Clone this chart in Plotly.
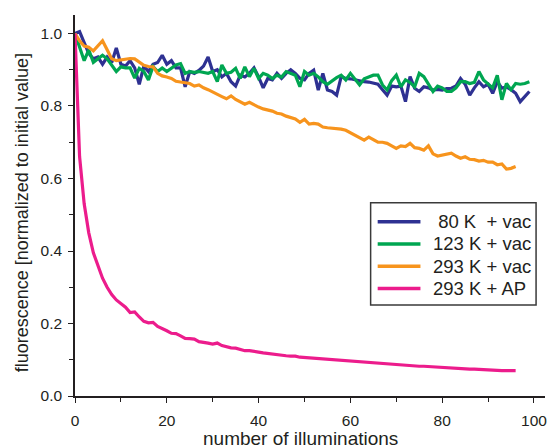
import plotly.graph_objects as go

# ---- data ----
x_long = list(range(0, 100))   # 80 K and 123 K series
x_short = list(range(0, 97))   # 293 K series

blue_80K_vac = [
    1.00, 1.005, 0.975, 0.945, 0.93, 0.935, 0.915, 0.935, 0.92, 0.96,
    0.915, 0.91, 0.925, 0.905, 0.86, 0.91, 0.895, 0.915, 0.92, 0.94,
    0.915, 0.925, 0.905, 0.905, 0.853, 0.895, 0.89, 0.898, 0.91, 0.935,
    0.895, 0.90, 0.88, 0.89, 0.867, 0.855, 0.885, 0.88, 0.89, 0.905,
    0.88, 0.85, 0.876, 0.872, 0.89, 0.876, 0.89, 0.90, 0.89, 0.876,
    0.872, 0.89, 0.899, 0.844, 0.89, 0.844, 0.84, 0.83, 0.881, 0.876,
    0.875, 0.872, 0.87, 0.867, 0.866, 0.863, 0.86, 0.845, 0.83, 0.855,
    0.853, 0.855, 0.812, 0.881, 0.849, 0.84, 0.853, 0.85, 0.844, 0.846,
    0.844, 0.848, 0.849, 0.855, 0.876, 0.86, 0.83, 0.85, 0.867, 0.853,
    0.86, 0.835, 0.867, 0.849, 0.853, 0.845, 0.835, 0.812, 0.825, 0.84,
]

green_123K_vac = [
    1.00, 0.96, 0.925, 0.955, 0.92, 0.93, 0.94, 0.93, 0.913, 0.895,
    0.908, 0.905, 0.905, 0.877, 0.904, 0.895, 0.872, 0.909, 0.895, 0.905,
    0.895, 0.905, 0.913, 0.917, 0.89, 0.895, 0.893, 0.895, 0.893, 0.89,
    0.895, 0.867, 0.913, 0.89, 0.893, 0.904, 0.876, 0.908, 0.881, 0.904,
    0.876, 0.89, 0.885, 0.876, 0.885, 0.88, 0.895, 0.89, 0.885, 0.853,
    0.895, 0.885, 0.89, 0.88, 0.867, 0.86, 0.87, 0.878, 0.885, 0.872,
    0.89, 0.875, 0.858, 0.875, 0.881, 0.885, 0.885, 0.858, 0.844, 0.87,
    0.885, 0.853, 0.872, 0.865, 0.853, 0.89, 0.881, 0.86, 0.84, 0.855,
    0.85, 0.84, 0.84, 0.85, 0.867, 0.867, 0.862, 0.865, 0.895, 0.872,
    0.862, 0.85, 0.885, 0.817, 0.862, 0.845, 0.862, 0.86, 0.862, 0.867,
]

orange_293K_vac = [
    1.00, 0.98, 0.965, 0.962, 0.952, 0.965, 0.98, 0.955, 0.93, 0.925,
    0.927, 0.928, 0.931, 0.93, 0.92, 0.912, 0.909, 0.908, 0.89, 0.883,
    0.88, 0.876, 0.868, 0.865, 0.864, 0.862, 0.855, 0.858, 0.85, 0.845,
    0.838, 0.832, 0.826, 0.82, 0.828, 0.818, 0.812, 0.805, 0.81, 0.803,
    0.797, 0.792, 0.789, 0.786, 0.78, 0.778, 0.772, 0.768, 0.764, 0.755,
    0.763, 0.75, 0.752, 0.75, 0.742, 0.74, 0.739, 0.737, 0.736, 0.733,
    0.726, 0.72, 0.713, 0.706, 0.714, 0.708, 0.70, 0.70, 0.697, 0.69,
    0.683, 0.69, 0.688, 0.697, 0.685, 0.683, 0.678, 0.69, 0.668, 0.662,
    0.664, 0.666, 0.67, 0.662, 0.656, 0.66, 0.653, 0.652, 0.648, 0.65,
    0.645, 0.645, 0.638, 0.64, 0.626, 0.628, 0.633,
]

pink_293K_AP = [
    1.00, 0.66, 0.53, 0.45, 0.395, 0.36, 0.325, 0.30, 0.28, 0.265,
    0.255, 0.245, 0.23, 0.232, 0.218, 0.206, 0.202, 0.203, 0.192, 0.187,
    0.18, 0.173, 0.172, 0.166, 0.159, 0.158, 0.157, 0.15, 0.149, 0.146,
    0.143, 0.146, 0.139, 0.135, 0.133, 0.132, 0.128, 0.125, 0.125, 0.124,
    0.121, 0.119, 0.117, 0.116, 0.115, 0.113, 0.111, 0.11, 0.11, 0.107,
    0.106, 0.105, 0.104, 0.104, 0.102, 0.10, 0.099, 0.098, 0.097, 0.096,
    0.095, 0.094, 0.094, 0.093, 0.092, 0.091, 0.09, 0.088, 0.088, 0.087,
    0.086, 0.085, 0.085, 0.084, 0.083, 0.082, 0.082, 0.081, 0.08, 0.079,
    0.078, 0.078, 0.077, 0.076, 0.075, 0.075, 0.074, 0.074, 0.073, 0.072,
    0.072, 0.071, 0.07, 0.07, 0.07, 0.07, 0.07,
]

NB = "\u00a0"
series_names = [
    NB + "80 K" + NB + NB + "+ vac",
    "123 K + vac",
    "293 K + vac",
    "293 K + AP",
]
series_colors = ["#2E3192", "#00A651", "#F7941D", "#EC1C8C"]
series_x = [x_long, x_long, x_short, x_short]
series_y = [blue_80K_vac, green_123K_vac, orange_293K_vac, pink_293K_AP]

x_title = "number of illuminations"
y_title = "fluorescence [normalized to initial value]"

FONT = "Liberation Sans, Arial, sans-serif"
INK = "#231F20"

fig = go.Figure()
for name, color, xs, ys in zip(series_names, series_colors, series_x, series_y):
    fig.add_trace(go.Scatter(
        x=xs, y=ys, mode="lines", name=name, showlegend=False,
        line=dict(color=color, width=3.2),
    ))

# ---- legend box (drawn in paper coordinates) ----
LEG_X0, LEG_X1, LEG_Y0, LEG_Y1 = 0.629, 0.981, 0.239, 0.507
ROW_Y = [0.4575, 0.3990, 0.3404, 0.2822]
LINE_X0, LINE_X1, TEXT_X = 0.644, 0.735, 0.7585

fig.add_shape(type="rect", xref="paper", yref="paper",
              x0=LEG_X0, x1=LEG_X1, y0=LEG_Y0, y1=LEG_Y1,
              line=dict(color="#3a3a3a", width=1.5), fillcolor="white", layer="above")
for name, color, ry in zip(series_names, series_colors, ROW_Y):
    fig.add_shape(type="line", xref="paper", yref="paper",
                  x0=LINE_X0, x1=LINE_X1, y0=ry, y1=ry,
                  line=dict(color=color, width=3.5), layer="above")
    fig.add_annotation(xref="paper", yref="paper", x=TEXT_X, y=ry,
                       xanchor="left", yanchor="middle", showarrow=False,
                       text=name, font=dict(family=FONT, size=18.5, color=INK))

# ---- axis titles ----
fig.add_annotation(xref="paper", yref="paper", x=0.4788, y=-0.111,
                   xanchor="center", yanchor="middle", showarrow=False,
                   text=x_title, font=dict(family=FONT, size=19, color=INK))
fig.add_annotation(xref="paper", yref="paper", x=-0.1125, y=0.480,
                   xanchor="center", yanchor="middle", showarrow=False, textangle=-90,
                   text=y_title, font=dict(family=FONT, size=18, color=INK))

axis_common = dict(
    showgrid=False, zeroline=False, showline=True,
    linecolor=INK, linewidth=1.6,
    ticks="outside", ticklen=5, tickwidth=1.4, tickcolor=INK,
    tickfont=dict(family=FONT, size=15.5, color=INK),
    ticklabeloverflow="allow",
)

fig.update_layout(
    width=549, height=448,
    margin=dict(l=75, r=2, t=15, b=52),
    paper_bgcolor="white", plot_bgcolor="white",
    font=dict(family=FONT, color=INK),
    showlegend=False,
    xaxis=dict(
        range=[0, 102.4], tick0=0, dtick=20,
        minor=dict(dtick=10, ticks="outside", ticklen=4, tickwidth=1.4, tickcolor=INK),
        ticklabelstandoff=5,
        **axis_common,
    ),
    yaxis=dict(
        range=[0, 1.051], tick0=0, dtick=0.2, tickformat=".1f",
        minor=dict(dtick=0.1, ticks="outside", ticklen=4, tickwidth=1.4, tickcolor=INK),
        ticklabelstandoff=3,
        **axis_common,
    ),
)

fig.write_html("out.html")
